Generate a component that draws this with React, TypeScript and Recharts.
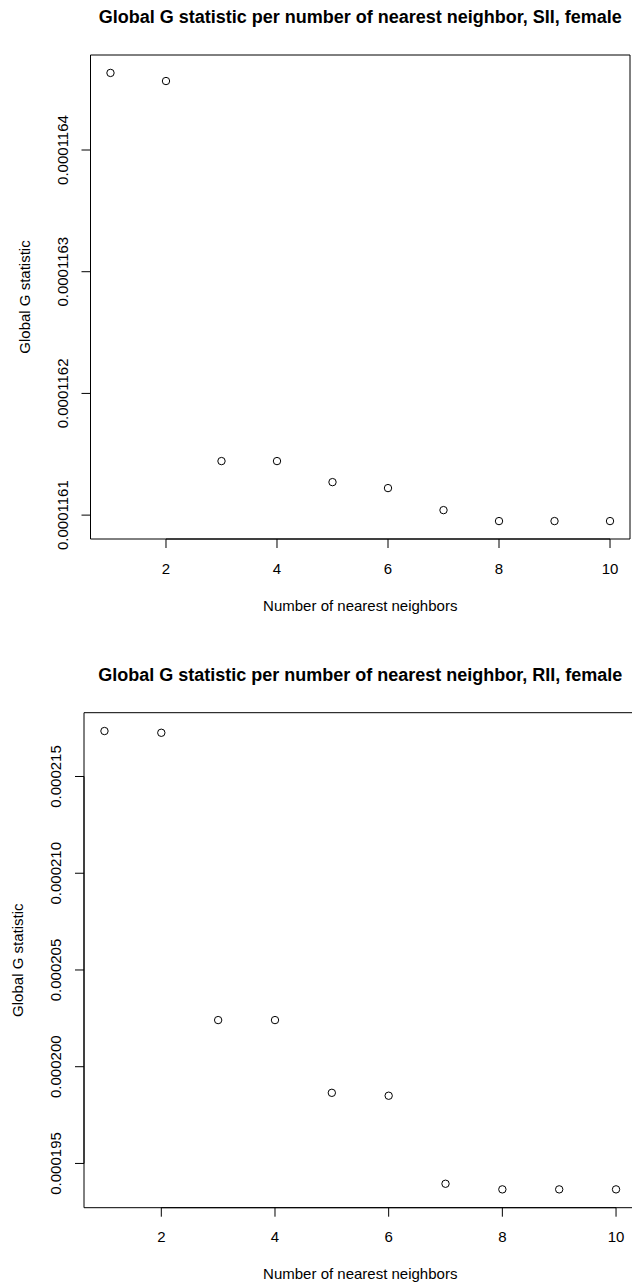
import React from "react";
import { ScatterChart, Scatter, XAxis, YAxis, ReferenceArea, ReferenceLine } from "recharts";

const FONT = '"Liberation Sans", Arial, Helvetica, sans-serif';

// x: number of nearest neighbours
const neighbors = [1, 2, 3, 4, 5, 6, 7, 8, 9, 10];
const xTicks = [2, 4, 6, 8, 10];

// Global G per k, SII female
const siiValues = [
  0.00011646333, 0.00011645667, 0.0001161444, 0.0001161444, 0.0001161271,
  0.0001161222, 0.0001161041, 0.0001160951, 0.0001160951, 0.0001160951,
];
const siiTicks = [0.0001161, 0.0001162, 0.0001163, 0.0001164];
const siiTickLabels = ["0.0001161", "0.0001162", "0.0001163", "0.0001164"];

// Global G per k, RII female
const riiValues = [
  0.00021735, 0.00021726, 0.00020241, 0.00020241, 0.00019865,
  0.0001985, 0.00019395, 0.00019366, 0.00019366, 0.00019366,
];
const riiTicks = [0.000195, 0.0002, 0.000205, 0.00021, 0.000215];
const riiTickLabels = ["0.000195", "0.000200", "0.000205", "0.000210", "0.000215"];

// R's default 4% axis padding
const padRange = (vals: number[]): [number, number] => {
  const lo = Math.min(...vals);
  const hi = Math.max(...vals);
  const pad = (hi - lo) * 0.04;
  return [lo - pad, hi + pad];
};

const Ring = (p: any) => (
  <circle cx={p.cx} cy={p.cy} r={3.7} fill="none" stroke="#000" strokeWidth={1} />
);

interface PanelProps {
  title: string;
  values: number[];
  yTicks: number[];
  yLabels: string[];
  top: number;
  height: number;
  chartWidth: number;
  boxTop: number;
  boxBottom: number;
  boxLeft: number;
  boxRight: number;
}

function GPanel({ title, values, yTicks, yLabels, top, height, chartWidth, boxTop, boxBottom, boxLeft, boxRight }: PanelProps) {
  const data = neighbors.map((k, i) => ({ k, g: values[i] }));
  const [xLo, xHi] = padRange(neighbors);
  const [yLo, yHi] = padRange(values);
  const midY = (boxTop + boxBottom) / 2;
  const midX = (boxLeft + boxRight) / 2;

  const xTick = (p: any) => (
    <text x={p.x} y={boxBottom + 29} textAnchor="middle" dominantBaseline="central" fontSize={15} fill="#000" fontFamily={FONT}>
      {p.payload.value}
    </text>
  );
  const yTick = (p: any) => {
    const x = boxLeft - 28;
    return (
      <text x={x} y={p.y} transform={`rotate(-90, ${x}, ${p.y})`} textAnchor="middle" dominantBaseline="central" fontSize={15} fill="#000" fontFamily={FONT}>
        {yLabels[yTicks.indexOf(p.payload.value)]}
      </text>
    );
  };
  const xTitle = () => (
    <text x={midX} y={boxBottom + 66} textAnchor="middle" dominantBaseline="central" fontSize={15} fill="#000" fontFamily={FONT}>
      Number of nearest neighbors
    </text>
  );
  const yTitle = () => {
    const x = boxLeft - 66;
    return (
      <text x={x} y={midY} transform={`rotate(-90, ${x}, ${midY})`} textAnchor="middle" dominantBaseline="central" fontSize={15} fill="#000" fontFamily={FONT}>
        Global G statistic
      </text>
    );
  };
  const mainTitle = () => (
    <text x={midX} y={boxTop - 38} textAnchor="middle" dominantBaseline="central" fontSize={18} fontWeight="bold" fill="#000" fontFamily={FONT}>
      {title}
    </text>
  );

  return (
    <div style={{ position: "absolute", left: 0, top, width: 632, height, overflow: "hidden", background: "#fff" }}>
      <ScatterChart
        width={chartWidth}
        height={height}
        margin={{ top: boxTop, right: chartWidth - boxRight, bottom: 0, left: 0 }}
      >
        <XAxis
          type="number"
          dataKey="k"
          domain={[xLo, xHi]}
          ticks={xTicks}
          allowDataOverflow
          axisLine={false}
          stroke="#000"
          tickSize={9}
          height={height - boxBottom}
          tick={xTick}
          label={xTitle}
        />
        <YAxis
          type="number"
          dataKey="g"
          domain={[yLo, yHi]}
          ticks={yTicks}
          allowDataOverflow
          axisLine={false}
          stroke="#000"
          tickSize={9}
          width={boxLeft}
          tick={yTick}
          label={yTitle}
        />
        <ReferenceArea
          x1={xLo}
          x2={xHi}
          y1={yLo}
          y2={yHi}
          fill="none"
          fillOpacity={0}
          stroke="#000"
          strokeWidth={1}
          ifOverflow="visible"
          label={mainTitle}
        />
        <ReferenceLine
          segment={[{ x: xTicks[0], y: yLo }, { x: xTicks[xTicks.length - 1], y: yLo }]}
          stroke="#000"
          strokeWidth={1}
          ifOverflow="visible"
        />
        <ReferenceLine
          segment={[{ x: xLo, y: yTicks[0] }, { x: xLo, y: yTicks[yTicks.length - 1] }]}
          stroke="#000"
          strokeWidth={1}
          ifOverflow="visible"
        />
        <Scatter data={data} shape={Ring} isAnimationActive={false} />
      </ScatterChart>
    </div>
  );
}

export default function App() {
  return (
    <div style={{ position: "absolute", left: 0, top: 0, width: 632, height: 1288, background: "#fff" }}>
      <GPanel
        title="Global G statistic per number of nearest neighbor, SII, female"
        values={siiValues}
        yTicks={siiTicks}
        yLabels={siiTickLabels}
        top={0}
        height={640}
        chartWidth={632}
        boxTop={55}
        boxBottom={539}
        boxLeft={90.5}
        boxRight={630}
      />
      <GPanel
        title="Global G statistic per number of nearest neighbor, RII, female"
        values={riiValues}
        yTicks={riiTicks}
        yLabels={riiTickLabels}
        top={640}
        height={648}
        chartWidth={640}
        boxTop={72.7}
        boxBottom={567.7}
        boxLeft={84}
        boxRight={636.5}
      />
    </div>
  );
}
